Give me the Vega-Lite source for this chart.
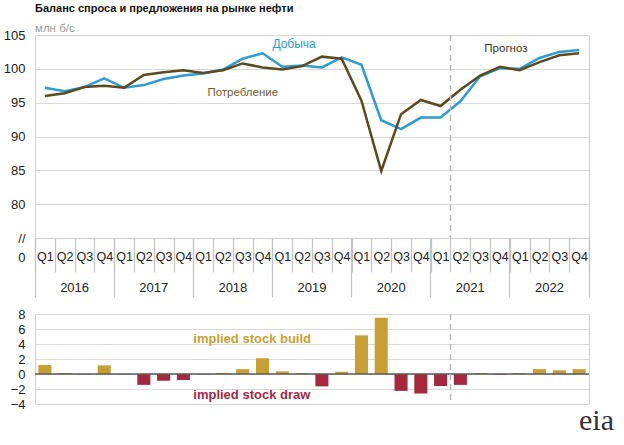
{
  "$schema": "https://vega.github.io/schema/vega-lite/v6.json",
  "padding": {"left": 2, "top": 2, "right": 2, "bottom": 2},
  "background": "white",
  "spacing": 8,
  "config": {
    "font": "Liberation Sans, Arial, sans-serif",
    "view": {"stroke": "#cfcfcf", "strokeWidth": 1},
    "axis": {"labelFont": "Liberation Sans, Arial, sans-serif", "labelColor": "#222", "gridColor": "#d9d9d9", "gridWidth": 1, "labelOverlap": false},
    "text": {"font": "Liberation Sans, Arial, sans-serif"},
    "title": {"font": "Liberation Sans, Arial, sans-serif", "subtitleFont": "Liberation Sans, Arial, sans-serif"}
  },
  "datasets": {
    "supply": [
      {"period": "2016-Q1", "series": "Добыча", "value": 97.2},
      {"period": "2016-Q2", "series": "Добыча", "value": 96.7},
      {"period": "2016-Q3", "series": "Добыча", "value": 97.3},
      {"period": "2016-Q4", "series": "Добыча", "value": 98.6},
      {"period": "2017-Q1", "series": "Добыча", "value": 97.2},
      {"period": "2017-Q2", "series": "Добыча", "value": 97.6},
      {"period": "2017-Q3", "series": "Добыча", "value": 98.5},
      {"period": "2017-Q4", "series": "Добыча", "value": 99.0},
      {"period": "2018-Q1", "series": "Добыча", "value": 99.3},
      {"period": "2018-Q2", "series": "Добыча", "value": 99.9},
      {"period": "2018-Q3", "series": "Добыча", "value": 101.5},
      {"period": "2018-Q4", "series": "Добыча", "value": 102.3},
      {"period": "2019-Q1", "series": "Добыча", "value": 100.3},
      {"period": "2019-Q2", "series": "Добыча", "value": 100.5},
      {"period": "2019-Q3", "series": "Добыча", "value": 100.2},
      {"period": "2019-Q4", "series": "Добыча", "value": 101.7},
      {"period": "2020-Q1", "series": "Добыча", "value": 100.6},
      {"period": "2020-Q2", "series": "Добыча", "value": 92.4},
      {"period": "2020-Q3", "series": "Добыча", "value": 91.1},
      {"period": "2020-Q4", "series": "Добыча", "value": 92.8},
      {"period": "2021-Q1", "series": "Добыча", "value": 92.8},
      {"period": "2021-Q2", "series": "Добыча", "value": 95.2},
      {"period": "2021-Q3", "series": "Добыча", "value": 98.9},
      {"period": "2021-Q4", "series": "Добыча", "value": 100.1},
      {"period": "2022-Q1", "series": "Добыча", "value": 100.0},
      {"period": "2022-Q2", "series": "Добыча", "value": 101.6},
      {"period": "2022-Q3", "series": "Добыча", "value": 102.5},
      {"period": "2022-Q4", "series": "Добыча", "value": 102.8},
      {"period": "2016-Q1", "series": "Потребление", "value": 96.0},
      {"period": "2016-Q2", "series": "Потребление", "value": 96.4},
      {"period": "2016-Q3", "series": "Потребление", "value": 97.3},
      {"period": "2016-Q4", "series": "Потребление", "value": 97.5},
      {"period": "2017-Q1", "series": "Потребление", "value": 97.2},
      {"period": "2017-Q2", "series": "Потребление", "value": 99.1},
      {"period": "2017-Q3", "series": "Потребление", "value": 99.5},
      {"period": "2017-Q4", "series": "Потребление", "value": 99.8},
      {"period": "2018-Q1", "series": "Потребление", "value": 99.4},
      {"period": "2018-Q2", "series": "Потребление", "value": 99.8},
      {"period": "2018-Q3", "series": "Потребление", "value": 100.8},
      {"period": "2018-Q4", "series": "Потребление", "value": 100.2},
      {"period": "2019-Q1", "series": "Потребление", "value": 99.9},
      {"period": "2019-Q2", "series": "Потребление", "value": 100.4},
      {"period": "2019-Q3", "series": "Потребление", "value": 101.8},
      {"period": "2019-Q4", "series": "Потребление", "value": 101.5},
      {"period": "2020-Q1", "series": "Потребление", "value": 95.3},
      {"period": "2020-Q2", "series": "Потребление", "value": 84.9},
      {"period": "2020-Q3", "series": "Потребление", "value": 93.3},
      {"period": "2020-Q4", "series": "Потребление", "value": 95.4},
      {"period": "2021-Q1", "series": "Потребление", "value": 94.5},
      {"period": "2021-Q2", "series": "Потребление", "value": 96.9},
      {"period": "2021-Q3", "series": "Потребление", "value": 99.0},
      {"period": "2021-Q4", "series": "Потребление", "value": 100.3},
      {"period": "2022-Q1", "series": "Потребление", "value": 99.8},
      {"period": "2022-Q2", "series": "Потребление", "value": 101.0},
      {"period": "2022-Q3", "series": "Потребление", "value": 102.0},
      {"period": "2022-Q4", "series": "Потребление", "value": 102.3}
    ],
    "stock": [
      {"period": "2016-Q1", "value": 1.2},
      {"period": "2016-Q2", "value": 0.15},
      {"period": "2016-Q3", "value": -0.05},
      {"period": "2016-Q4", "value": 1.15},
      {"period": "2017-Q1", "value": -0.05},
      {"period": "2017-Q2", "value": -1.45},
      {"period": "2017-Q3", "value": -0.9},
      {"period": "2017-Q4", "value": -0.8},
      {"period": "2018-Q1", "value": -0.05},
      {"period": "2018-Q2", "value": 0.15},
      {"period": "2018-Q3", "value": 0.65},
      {"period": "2018-Q4", "value": 2.1},
      {"period": "2019-Q1", "value": 0.35},
      {"period": "2019-Q2", "value": 0.1},
      {"period": "2019-Q3", "value": -1.65},
      {"period": "2019-Q4", "value": 0.3},
      {"period": "2020-Q1", "value": 5.15},
      {"period": "2020-Q2", "value": 7.5},
      {"period": "2020-Q3", "value": -2.25},
      {"period": "2020-Q4", "value": -2.6},
      {"period": "2021-Q1", "value": -1.6},
      {"period": "2021-Q2", "value": -1.45},
      {"period": "2021-Q3", "value": 0.12},
      {"period": "2021-Q4", "value": -0.1},
      {"period": "2022-Q1", "value": 0.12},
      {"period": "2022-Q2", "value": 0.65},
      {"period": "2022-Q3", "value": 0.5},
      {"period": "2022-Q4", "value": 0.65}
    ]
  },
  "vconcat": [
    {
      "width": 554,
      "height": 203,
      "title": {
        "text": "Баланс спроса и предложения на рынке нефти",
        "subtitle": "млн б/с",
        "anchor": "start",
        "frame": "group",
        "fontSize": 11,
        "fontWeight": "bold",
        "color": "#111",
        "subtitleFontSize": 11.5,
        "subtitleColor": "#999",
        "subtitlePadding": 9,
        "offset": -5
      },
      "layer": [
        {
          "data": {"name": "supply"},
          "mark": {"type": "line", "strokeWidth": 2.5},
          "encoding": {
            "x": {
              "field": "period", "type": "ordinal", "bandPosition": 0.5,
              "scale": {"type": "band", "paddingInner": 0, "paddingOuter": 0, "domain": ["2016-Q1","2016-Q2","2016-Q3","2016-Q4","2017-Q1","2017-Q2","2017-Q3","2017-Q4","2018-Q1","2018-Q2","2018-Q3","2018-Q4","2019-Q1","2019-Q2","2019-Q3","2019-Q4","2020-Q1","2020-Q2","2020-Q3","2020-Q4","2021-Q1","2021-Q2","2021-Q3","2021-Q4","2022-Q1","2022-Q2","2022-Q3","2022-Q4"]},
              "axis": {"orient": "bottom", "title": null, "tickBand": "extent", "tickSize": 34, "tickColor": "#c4c4c4", "tickWidth": 1.2, "labelExpr": "split(datum.value, '-')[1]", "labelPadding": -22, "labelFontSize": 12.5, "labelAngle": 0, "domain": true, "domainColor": "#cfcfcf", "grid": false}
            },
            "y": {
              "field": "value", "type": "quantitative",
              "scale": {"domain": [75, 105], "nice": false, "zero": false},
              "axis": {"title": null, "values": [75, 80, 85, 90, 95, 100, 105], "tickCount": 20, "format": "d", "labelExpr": "datum.value == 75 ? ['//', '0'] : datum.label", "labelOverlap": false, "ticks": false, "domain": false, "labelPadding": 10, "labelFontSize": 13, "labelLineHeight": 19}
            },
            "color": {"field": "series", "type": "nominal", "scale": {"domain": ["Добыча", "Потребление"], "range": ["#2d9bd7", "#5c4a1f"]}, "legend": null}
          }
        },
        {
          "data": {"values": [{"period": "2021-Q4", "value": 102.9, "label": "Прогноз"}]},
          "mark": {"type": "text", "fontSize": 11.5, "color": "#3a3222"},
          "encoding": {
            "x": {
              "field": "period", "type": "ordinal", "bandPosition": 0.8,
              "scale": {"type": "band", "paddingInner": 0, "paddingOuter": 0, "domain": ["2016-Q1","2016-Q2","2016-Q3","2016-Q4","2017-Q1","2017-Q2","2017-Q3","2017-Q4","2018-Q1","2018-Q2","2018-Q3","2018-Q4","2019-Q1","2019-Q2","2019-Q3","2019-Q4","2020-Q1","2020-Q2","2020-Q3","2020-Q4","2021-Q1","2021-Q2","2021-Q3","2021-Q4","2022-Q1","2022-Q2","2022-Q3","2022-Q4"]},
              "axis": {"orient": "bottom", "title": null, "values": ["2016-Q2","2017-Q2","2018-Q2","2019-Q2","2020-Q2","2021-Q2","2022-Q2"], "labelExpr": "slice(datum.value, 0, 4)", "ticks": false, "domain": false, "grid": false, "labelOffset": 9.9, "labelPadding": 43, "labelFontSize": 13, "labelAngle": 0}
            },
            "y": {"field": "value", "type": "quantitative"},
            "text": {"field": "label"}
          }
        },
        {
          "data": {"values": [{"period": "2021-Q2"}]},
          "mark": {"type": "rule", "strokeDash": [6, 4], "color": "#b8b8b8", "strokeWidth": 1.5},
          "encoding": {
            "x": {
              "field": "period", "type": "ordinal", "bandPosition": 0,
              "scale": {"type": "band", "paddingInner": 0, "paddingOuter": 0, "domain": ["2016-Q1","2016-Q2","2016-Q3","2016-Q4","2017-Q1","2017-Q2","2017-Q3","2017-Q4","2018-Q1","2018-Q2","2018-Q3","2018-Q4","2019-Q1","2019-Q2","2019-Q3","2019-Q4","2020-Q1","2020-Q2","2020-Q3","2020-Q4","2021-Q1","2021-Q2","2021-Q3","2021-Q4","2022-Q1","2022-Q2","2022-Q3","2022-Q4"]},
              "axis": {"orient": "bottom", "title": null, "values": ["2016-Q1","2016-Q4","2017-Q4","2018-Q4","2019-Q4","2020-Q4","2021-Q4","2022-Q4"], "bandPosition": 1, "tickExtra": true, "tickSize": 59, "tickColor": "#c4c4c4", "tickWidth": 1.2, "tickOpacity": {"condition": {"test": "datum.value === '2016-Q1'", "value": 0}, "value": 1}, "labels": false, "domain": false, "grid": false}
            }
          }
        },
        {
          "data": {"values": [{"period": "2019-Q1", "value": 103.6, "label": "Добыча"}]},
          "mark": {"type": "text", "fontSize": 12, "align": "left", "color": "#2d9bd7"},
          "encoding": {
            "x": {
              "field": "period", "type": "ordinal", "bandPosition": 0,
              "scale": {"type": "band", "paddingInner": 0, "paddingOuter": 0, "domain": ["2016-Q1","2016-Q2","2016-Q3","2016-Q4","2017-Q1","2017-Q2","2017-Q3","2017-Q4","2018-Q1","2018-Q2","2018-Q3","2018-Q4","2019-Q1","2019-Q2","2019-Q3","2019-Q4","2020-Q1","2020-Q2","2020-Q3","2020-Q4","2021-Q1","2021-Q2","2021-Q3","2021-Q4","2022-Q1","2022-Q2","2022-Q3","2022-Q4"]},
              "axis": null
            },
            "y": {"field": "value", "type": "quantitative"},
            "text": {"field": "label"}
          }
        },
        {
          "data": {"values": [{"period": "2018-Q3", "value": 96.4, "label": "Потребление"}]},
          "mark": {"type": "text", "fontSize": 11.5, "align": "center", "color": "#6e5d33"},
          "encoding": {
            "x": {
              "field": "period", "type": "ordinal", "bandPosition": 0.5,
              "scale": {"type": "band", "paddingInner": 0, "paddingOuter": 0, "domain": ["2016-Q1","2016-Q2","2016-Q3","2016-Q4","2017-Q1","2017-Q2","2017-Q3","2017-Q4","2018-Q1","2018-Q2","2018-Q3","2018-Q4","2019-Q1","2019-Q2","2019-Q3","2019-Q4","2020-Q1","2020-Q2","2020-Q3","2020-Q4","2021-Q1","2021-Q2","2021-Q3","2021-Q4","2022-Q1","2022-Q2","2022-Q3","2022-Q4"]},
              "axis": null
            },
            "y": {"field": "value", "type": "quantitative"},
            "text": {"field": "label"}
          }
        }
      ],
      "resolve": {"axis": {"x": "independent"}}
    },
    {
      "width": 554,
      "height": 90,
      "data": {"name": "stock"},
      "layer": [
        {
          "mark": {"type": "bar", "width": {"band": 0.66}},
          "encoding": {
            "x": {
              "field": "period", "type": "ordinal",
              "scale": {"type": "band", "paddingInner": 0, "paddingOuter": 0, "domain": ["2016-Q1","2016-Q2","2016-Q3","2016-Q4","2017-Q1","2017-Q2","2017-Q3","2017-Q4","2018-Q1","2018-Q2","2018-Q3","2018-Q4","2019-Q1","2019-Q2","2019-Q3","2019-Q4","2020-Q1","2020-Q2","2020-Q3","2020-Q4","2021-Q1","2021-Q2","2021-Q3","2021-Q4","2022-Q1","2022-Q2","2022-Q3","2022-Q4"]},
              "axis": null
            },
            "y": {
              "field": "value", "type": "quantitative",
              "scale": {"domain": [-4, 8], "nice": false, "zero": false},
              "axis": {"title": null, "values": [-4, -2, 0, 2, 4, 6, 8], "tickCount": 20, "format": "d", "labelOverlap": false, "ticks": false, "domain": false, "labelPadding": 10, "labelFontSize": 13}
            },
            "color": {"condition": {"test": "datum.value > 0", "value": "#c89f34"}, "value": "#a6283f"}
          }
        },
        {
          "data": {"values": [{}]},
          "mark": {"type": "rule", "color": "#5a5a5a", "strokeWidth": 1.5},
          "encoding": {"y": {"datum": 0, "type": "quantitative"}}
        },
        {
          "data": {"values": [{"period": "2021-Q2"}]},
          "mark": {"type": "rule", "strokeDash": [6, 4], "color": "#b8b8b8", "strokeWidth": 1.5},
          "encoding": {
            "x": {"field": "period", "type": "ordinal", "bandPosition": 0, "axis": null}
          }
        },
        {
          "data": {"values": [{"period": "2018-Q1", "value": 4.67, "label": "implied stock  build"}]},
          "mark": {"type": "text", "fontSize": 13, "fontWeight": "bold", "align": "left", "color": "#c89f34"},
          "encoding": {
            "x": {"field": "period", "type": "ordinal", "bandPosition": 0, "axis": null},
            "y": {"field": "value", "type": "quantitative"},
            "text": {"field": "label"}
          }
        },
        {
          "data": {"values": [{"period": "2018-Q1", "value": -2.8, "label": "implied stock draw"}]},
          "mark": {"type": "text", "fontSize": 13, "fontWeight": "bold", "align": "left", "color": "#a6283f"},
          "encoding": {
            "x": {"field": "period", "type": "ordinal", "bandPosition": 0, "axis": null},
            "y": {"field": "value", "type": "quantitative"},
            "text": {"field": "label"}
          }
        },
        {
          "data": {"values": [{"period": "2022-Q4", "label": "eia"}]},
          "mark": {"type": "text", "font": "Liberation Serif, DejaVu Serif, serif", "fontSize": 30, "align": "left", "baseline": "alphabetic", "dx": -10, "color": "#333"},
          "encoding": {
            "x": {"field": "period", "type": "ordinal", "bandPosition": 1, "axis": null},
            "y": {"datum": -7.47, "type": "quantitative"},
            "text": {"field": "label"}
          }
        }
      ]
    }
  ]
}
